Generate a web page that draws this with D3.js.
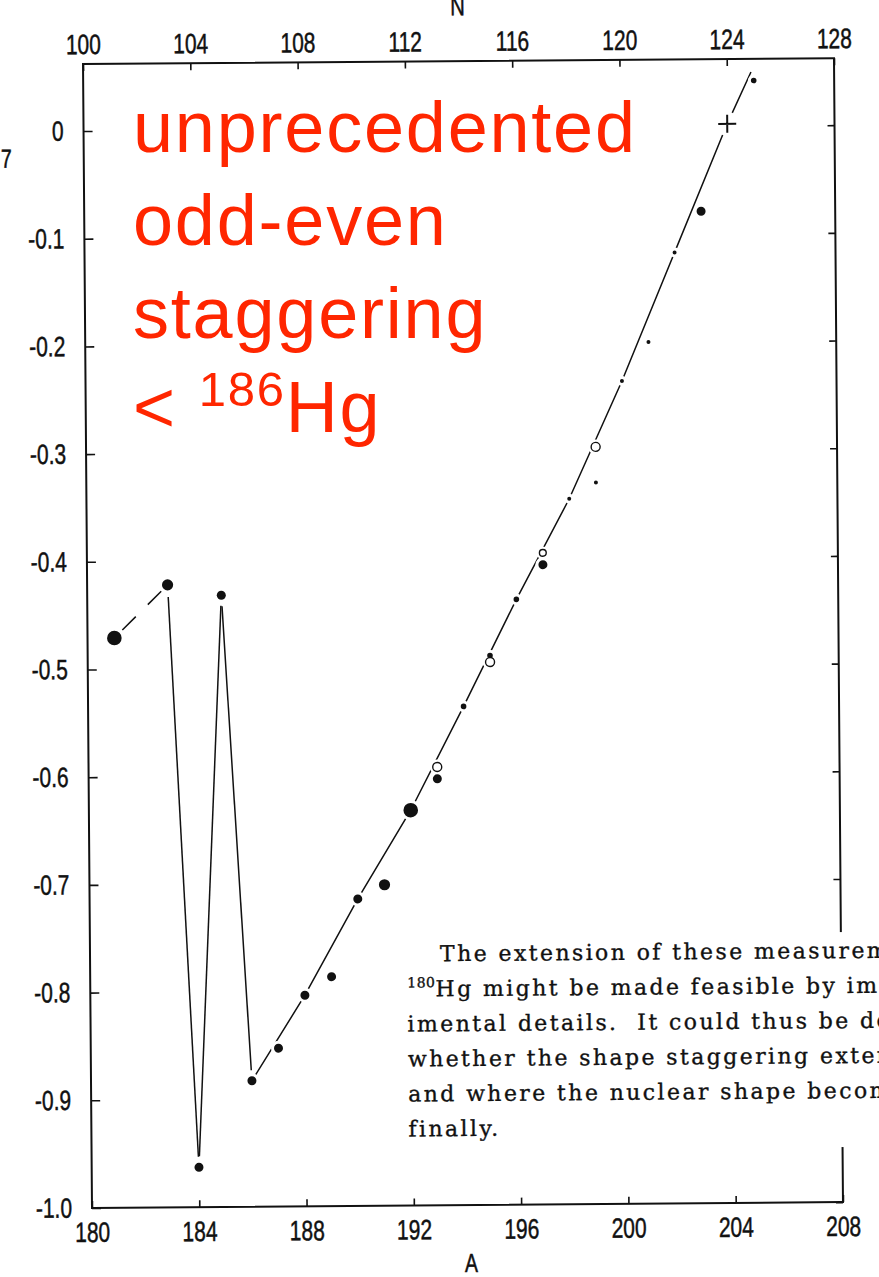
<!DOCTYPE html>
<html>
<head>
<meta charset="utf-8">
<script src="https://cdn.jsdelivr.net/npm/d3@7"></script>
<style>
  body { margin: 0; background: #fff; }
  svg { display: block; background: #fff; }
  .axis text, .label { font-family: 'Liberation Sans', Arial, sans-serif; font-size: 28px; fill: #111; stroke: #111; stroke-width: 0.5px; }
  .axis line { stroke: #111; stroke-width: 1.6; }
  .note text { white-space: pre; }
</style>
</head>
<body>
<svg id="chart" width="879" height="1277"></svg>
<script>
// ---- data ---------------------------------------------------------------
// mass number A, value on the vertical scale
const filledA     = [181, 183, 184, 185, 186, 187, 188, 189, 190, 191, 192, 193, 194, 195, 196, 197, 198, 199, 200, 201, 202, 203, 205];
const filledVal   = [-0.471, -0.422, -0.963, -0.432, -0.883, -0.853, -0.804, -0.787, -0.715, -0.702, -0.633, -0.604, -0.537, -0.490, -0.438, -0.406, -0.345, -0.330, -0.236, -0.200, -0.117, -0.079, 0.042];
const filledClass = ['big', 'large', 'mid', 'mid', 'mid', 'mid', 'mid', 'mid', 'mid', 'large', 'big', 'mid', 'small', 'small', 'small', 'mid', 'tiny', 'tiny', 'tiny', 'tiny', 'tiny', 'mid', 'small'];

const openA     = [193, 195, 197, 199];
const openVal   = [-0.593, -0.496, -0.395, -0.297];
const openClass = ['mid', 'mid', 'smallOpen', 'mid'];

const crossA   = [204];
const crossVal = [0.002];

// connecting lines
const dashedA   = [181, 183];
const dashedVal = [-0.471, -0.422];
const zigzagA   = [183, 184, 185, 186];
const zigzagVal = [-0.422, -0.963, -0.432, -0.883];
const trendA    = [186, 188, 190, 192, 194, 196, 198, 200, 202, 204, 204.9];
const trendVal  = [-0.883, -0.804, -0.715, -0.633, -0.537, -0.438, -0.345, -0.236, -0.117, 0.002, 0.050];

// axis ticks
const aTicks = [180, 184, 188, 192, 196, 200, 204, 208];
const nTicks = [100, 104, 108, 112, 116, 120, 124, 128];
const vTicks = [0, -0.1, -0.2, -0.3, -0.4, -0.5, -0.6, -0.7, -0.8, -0.9, -1.0];

const noteLines = [
  'The extension of these measurements to',
  '|Hg might be made feasible by improving exper-',
  'imental details.  It could thus be decided',
  'whether the shape staggering extends further',
  'and where the nuclear shape becomes stable',
  'finally.'
];

// ---- layout ---------------------------------------------------------------
const frame = { left: 92, right: 843, top: 64, bottom: 1208 };
const radius = { big: 7.3, large: 5.6, mid: 4.5, small: 2.8, tiny: 2.0, smallOpen: 3.4 };
const ink = '#111';
const narrow = 0.75;   // horizontal squeeze of the condensed axis lettering

const svg = d3.select('#chart');
// the printed figure sits slightly tilted on the page
const fig = svg.append('g').attr('transform', `rotate(-0.45, ${frame.left}, ${frame.bottom})`);

const x  = d3.scaleLinear().domain([180, 208]).range([frame.left, frame.right]);
const xN = d3.scaleLinear().domain([100, 128]).range([frame.left, frame.right]);
const y  = d3.scaleLinear().domain([-1, 0]).range([frame.bottom, 131]);

// frame
fig.append('rect')
  .attr('x', frame.left).attr('y', frame.top)
  .attr('width', frame.right - frame.left).attr('height', frame.bottom - frame.top)
  .attr('fill', 'none').attr('stroke', ink).attr('stroke-width', 2);

// axes
const fmtV = d => d === 0 ? '0' : d.toFixed(1);
const bottomAxis = fig.append('g').attr('class', 'axis')
  .attr('transform', `translate(0,${frame.bottom})`)
  .call(d3.axisBottom(x).tickValues(aTicks).tickSize(-7).tickPadding(14).tickFormat(d3.format('d')));
const topAxis = fig.append('g').attr('class', 'axis')
  .attr('transform', `translate(0,${frame.top})`)
  .call(d3.axisTop(xN).tickValues(nTicks).tickSize(-7).tickPadding(10).tickFormat(d3.format('d')));
const leftAxis = fig.append('g').attr('class', 'axis')
  .attr('transform', `translate(${frame.left},0)`)
  .call(d3.axisLeft(y).tickValues(vTicks).tickSize(-9).tickPadding(20).tickFormat(fmtV));
fig.append('g').attr('class', 'axis')
  .attr('transform', `translate(${frame.right},0)`)
  .call(d3.axisRight(y).tickValues(vTicks).tickSize(-7).tickFormat(''));
fig.selectAll('.axis .domain').remove();

// condensed tick lettering
bottomAxis.selectAll('text').attr('transform', `scale(${narrow},1)`);
topAxis.selectAll('text').attr('transform', `scale(${narrow},1)`);
leftAxis.selectAll('text').attr('x', -20 / narrow).attr('transform', `scale(${narrow},1)`);

// axis titles
function label(px, py, txt, anchor, size) {
  fig.append('text').attr('class', 'label')
    .attr('transform', `translate(${px},${py}) scale(${narrow},1)`)
    .attr('text-anchor', anchor).style('font-size', size + 'px').text(txt);
}
label(467, 18, 'N', 'middle', 27);
label(471, 1275, 'A', 'middle', 26);
label(20, 167, '7', 'end', 26);

// ---- lines ----------------------------------------------------------------
const px = (a, v) => [x(a), y(v)];
function trimmed(p, q, t1, t2) {
  const dx = q[0] - p[0], dy = q[1] - p[1], L = Math.hypot(dx, dy);
  return [[p[0] + dx * t1 / L, p[1] + dy * t1 / L], [q[0] - dx * t2 / L, q[1] - dy * t2 / L]];
}
const rOf = a => { const i = filledA.indexOf(a); return radius[filledClass[i]]; };

const lines = fig.append('g').attr('fill', 'none').attr('stroke', ink).attr('stroke-width', 1.5);

// dashed link between the two lightest points
{
  const [p, q] = trimmed(px(dashedA[0], dashedVal[0]), px(dashedA[1], dashedVal[1]), rOf(dashedA[0]) + 4, rOf(dashedA[1]) + 2.5);
  lines.append('path').attr('d', d3.line()([p, q])).attr('stroke-dasharray', '19,17');
}
// zig-zag of the staggering isotopes
for (let i = 0; i < zigzagA.length - 1; i++) {
  const [p, q] = trimmed(px(zigzagA[i], zigzagVal[i]), px(zigzagA[i + 1], zigzagVal[i + 1]),
    rOf(zigzagA[i]) + 6.5, rOf(zigzagA[i + 1]) + 6);
  lines.append('path').attr('d', d3.line()([p, q]));
}
// trend through the even isotopes
lines.append('path')
  .attr('d', d3.line().x(d => x(d[0])).y(d => y(d[1]))(trendA.map((a, i) => [a, trendVal[i]])));

// ---- markers --------------------------------------------------------------
const filled = filledA.map((a, i) => ({ a, v: filledVal[i], r: radius[filledClass[i]] }));
const open   = openA.map((a, i) => ({ a, v: openVal[i], r: radius[openClass[i]] }));
const cross  = crossA.map((a, i) => ({ a, v: crossVal[i] }));

// white halos open small gaps in the lines around each symbol
const halos = fig.append('g').attr('fill', '#fff');
halos.selectAll('circle.f').data(filled).join('circle').attr('class', 'f')
  .attr('cx', d => x(d.a)).attr('cy', d => y(d.v)).attr('r', d => d.r + 3);
halos.selectAll('circle.o').data(open).join('circle').attr('class', 'o')
  .attr('cx', d => x(d.a)).attr('cy', d => y(d.v)).attr('r', d => d.r + 3);
halos.selectAll('circle.c').data(cross).join('circle').attr('class', 'c')
  .attr('cx', d => x(d.a)).attr('cy', d => y(d.v)).attr('r', 12);

const marks = fig.append('g');
marks.selectAll('circle.filled').data(filled).join('circle').attr('class', 'filled')
  .attr('cx', d => x(d.a)).attr('cy', d => y(d.v)).attr('r', d => d.r).attr('fill', ink);
marks.selectAll('circle.open').data(open).join('circle').attr('class', 'open')
  .attr('cx', d => x(d.a)).attr('cy', d => y(d.v)).attr('r', d => d.r)
  .attr('fill', '#fff').attr('stroke', ink).attr('stroke-width', 1.4);
marks.selectAll('path.cross').data(cross).join('path').attr('class', 'cross')
  .attr('transform', d => `translate(${x(d.a)},${y(d.v)})`)
  .attr('d', 'M-9,0H9M0,-9V9').attr('stroke', ink).attr('stroke-width', 2).attr('fill', 'none');

// ---- printed note beside the figure -----------------------------------------
// the note is set on a white block that hides the frame behind it
fig.append('rect').attr('x', 400).attr('y', 938).attr('width', 500).attr('height', 215).attr('fill', '#fff');
const note = fig.append('g').attr('class', 'note')
  .style('font-family', "'DejaVu Serif', serif").style('font-size', '22px')
  .style('letter-spacing', '2.4px').attr('fill', ink)
  .attr('stroke', ink).attr('stroke-width', 0.35);
noteLines.forEach((line, i) => {
  const t = note.append('text').attr('x', i === 0 ? 442 : 409).attr('y', 964 + 35 * i);
  if (line.startsWith('|')) {
    t.append('tspan').style('font-size', '14px').style('letter-spacing', '0.5px').attr('dy', -9).text('180');
    t.append('tspan').attr('dy', 9).text(line.slice(1));
  } else {
    t.text(line);
  }
});

// ---- red annotation ---------------------------------------------------------
const red = '#ff2600';
const ann = svg.append('g')
  .style('font-family', "'Liberation Sans', Arial, sans-serif").style('font-size', '72px')
  .style('letter-spacing', '1.8px').attr('fill', red);
['unprecedented', 'odd-even', 'staggering'].forEach((w, i) => {
  ann.append('text').attr('x', 133).attr('y', 152 + 93 * i).text(w);
});
const last = ann.append('text').attr('x', 133).attr('y', 432);
last.append('tspan').text('< ');
last.append('tspan').style('font-size', '49px').attr('dy', -26).text('186');
last.append('tspan').attr('dy', 26).text('Hg');
</script>
</body>
</html>
